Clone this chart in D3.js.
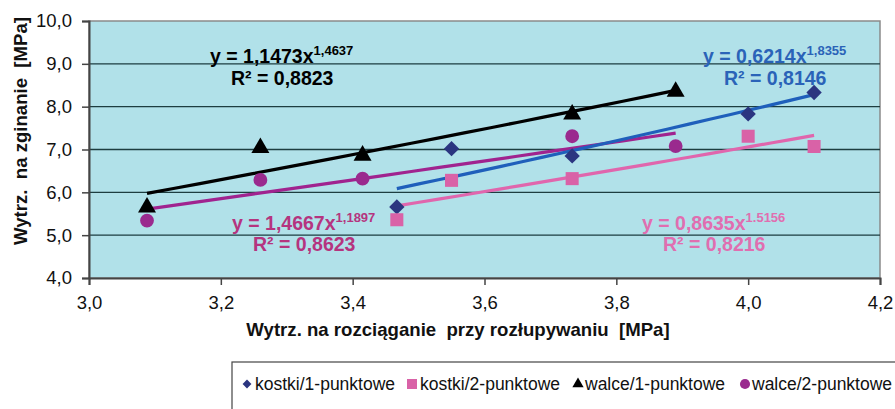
<!DOCTYPE html>
<html><head><meta charset="utf-8">
<script src="https://cdn.jsdelivr.net/npm/d3@7"></script>
<style>
body{margin:0;background:#fff;}
svg{display:block;font-family:Arial,"Liberation Sans",sans-serif;}
text{white-space:pre;}
</style></head>
<body><svg id="c" width="895" height="409"></svg>
<script>
const seriesNames = ["kostki/1-punktowe","kostki/2-punktowe","walce/1-punktowe","walce/2-punktowe"];
const kostkiX = [3.467, 3.55, 3.733, 4.0, 4.1];
const kostki1Y = [5.66, 7.02, 6.85, 7.83, 8.33];
const kostki2Y = [5.36, 6.28, 6.32, 7.31, 7.07];
const walceX = [3.088, 3.26, 3.415, 3.733, 3.89];
const walce1Y = [5.65, 7.04, 6.86, 7.82, 8.35];
const walce2Y = [5.34, 6.29, 6.32, 7.31, 7.08];
const trendA = [0.6214, 0.8635, 1.1473, 1.4667];
const trendB = [1.8355, 1.5156, 1.4637, 1.1897];
const eqCoef = ["0,6214","0,8635","1,1473","1,4667"];
const eqExp = ["1,8355","1.5156","1,4637","1,1897"];
const eqR2 = ["0,8146","0,8216","0,8823","0,8623"];
const xTicks = [3.0,3.2,3.4,3.6,3.8,4.0,4.2];
const yTicks = [4,5,6,7,8,9,10];

const svg = d3.select("#c");
const x = d3.scaleLinear().domain([3,4.2]).range([89,880]);
const y = d3.scaleLinear().domain([4,10]).range([278,21]);
const fmt = v => v.toFixed(1).replace(".", ",");

// plot background
svg.append("rect").attr("x",x(3)).attr("y",y(10)).attr("width",x(4.2)-x(3)).attr("height",y(4)-y(10))
  .attr("fill","#b1e1e9").attr("stroke","#8a8a8a").attr("stroke-width",1.5);
// gridlines
svg.append("g").selectAll("line").data(yTicks.filter(t=>t>4&&t<10)).join("line")
  .attr("x1",x(3)).attr("x2",x(4.2)).attr("y1",d=>y(d)).attr("y2",d=>y(d))
  .attr("stroke","#1d3d40").attr("stroke-width",1.3);

// axes
const yAxis = svg.append("g").attr("transform",`translate(${x(3)},0)`)
  .call(d3.axisLeft(y).tickValues(yTicks).tickFormat(fmt).tickSize(7).tickPadding(10));
const xAxis = svg.append("g").attr("transform",`translate(0,${y(4)})`)
  .call(d3.axisBottom(x).tickValues(xTicks).tickFormat(fmt).tickSize(7).tickPadding(11));
[yAxis,xAxis].forEach(g=>{
  g.select(".domain").attr("stroke","#444").attr("stroke-width",2);
  g.selectAll(".tick line").attr("stroke","#444").attr("stroke-width",1.5);
  g.selectAll(".tick text").attr("font-size",18.5).attr("fill","#111").attr("font-family","Arial, 'Liberation Sans', sans-serif");
});

// axis titles
svg.append("text").attr("x",458).attr("y",336).attr("text-anchor","middle")
  .attr("font-weight","bold").attr("font-size",18.6).attr("fill","#111")
  .text("Wytrz. na rozciąganie  przy rozłupywaniu  [MPa]");
svg.append("text").attr("transform","translate(27,131) rotate(-90)").attr("text-anchor","middle")
  .attr("font-weight","bold").attr("font-size",18.6).attr("fill","#111")
  .text("Wytrz.  na zginanie  [MPa]");

// trendlines
const trendColor = ["#1f5fbb","#e066ad","#000000","#a0238f"];
const trendRange = [d3.extent(kostkiX), d3.extent(kostkiX), d3.extent(walceX), d3.extent(walceX)];
const line = d3.line().x(d=>x(d[0])).y(d=>y(d[1]));
[3,2,1,0].forEach(i=>{
  const [a,b] = trendRange[i];
  const pts = d3.range(0,21).map(k=>{const xv=a+(b-a)*k/20; return [xv, trendA[i]*Math.pow(xv,trendB[i])];});
  svg.append("path").attr("d",line(pts)).attr("fill","none").attr("stroke",trendColor[i]).attr("stroke-width",3.2);
});

// markers
const markerColor = ["#2b3580","#d962a7","#000000","#9a2a8e"];
const symbols = [d3.symbolDiamond2, d3.symbolSquare, d3.symbolTriangle, d3.symbolCircle];
const symSize = [150,170,140,150];
const series = [
  kostkiX.map((v,i)=>[v,kostki1Y[i]]),
  kostkiX.map((v,i)=>[v,kostki2Y[i]]),
  walceX.map((v,i)=>[v,walce1Y[i]]),
  walceX.map((v,i)=>[v,walce2Y[i]])
];
series.forEach((s,i)=>{
  svg.append("g").selectAll("path").data(s).join("path")
    .attr("transform",d=>`translate(${x(d[0])},${y(d[1])})`)
    .attr("d",d3.symbol().type(symbols[i]).size(symSize[i])())
    .attr("fill",markerColor[i]);
});

// equations
const eqColor = ["#2a63b8","#e06eb0","#000000","#b5347f"];
const eqPos = [[703,63,724,85],[642,230,663,251],[210,63,231,85],[232,230,253,251]];
eqPos.forEach((p,i)=>{
  const t = svg.append("text").attr("x",p[0]).attr("y",p[1]).attr("font-weight","bold")
    .attr("font-size",19.5).attr("fill",eqColor[i]);
  t.append("tspan").text(`y = ${eqCoef[i]}x`);
  t.append("tspan").attr("font-size",13).attr("dy",-8).text(eqExp[i]);
  svg.append("text").attr("x",p[2]).attr("y",p[3]).attr("font-weight","bold")
    .attr("font-size",19.5).attr("fill",eqColor[i]).text(`R² = ${eqR2[i]}`);
});

// legend
svg.append("rect").attr("x",232).attr("y",362).attr("width",700).attr("height",80)
  .attr("fill","#fff").attr("stroke","#444").attr("stroke-width",1.2);
const legX = [247,412,578,745];
const legTX = [255,420,585,752];
const legSize = [50,100,55,80];
seriesNames.forEach((n,i)=>{
  svg.append("path").attr("transform",`translate(${legX[i]},${384})`)
    .attr("d",d3.symbol().type(symbols[i]).size(legSize[i])()).attr("fill",markerColor[i]);
  svg.append("text").attr("x",legTX[i]).attr("y",390).attr("font-size",17.5).attr("fill","#111")
    .text(n);
});
</script></body></html>
